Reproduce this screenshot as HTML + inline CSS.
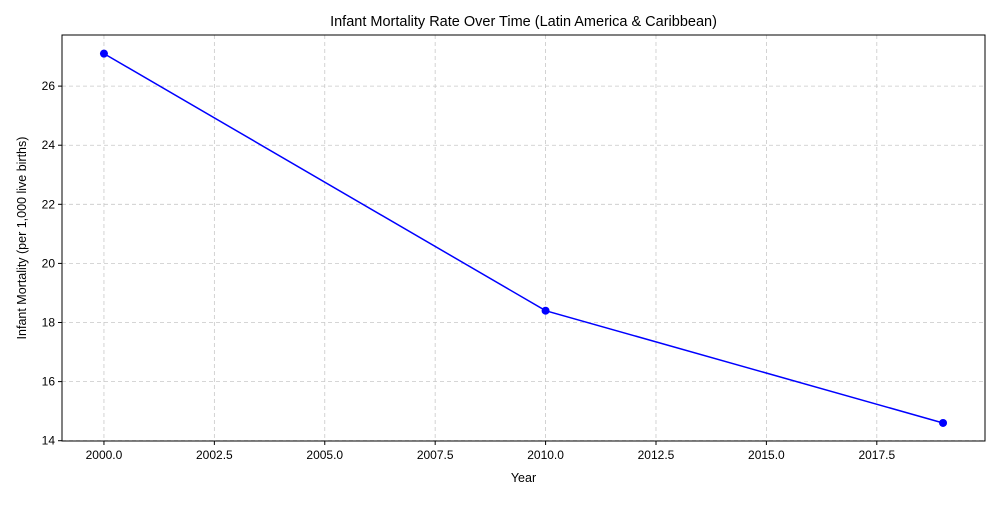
<!DOCTYPE html>
<html><head><meta charset="utf-8"><style>
body{margin:0;background:#fff;font-family:"Liberation Sans","DejaVu Sans",sans-serif;}
</style></head><body>
<svg id="chart" width="1000" height="500" xmlns="http://www.w3.org/2000/svg"></svg>
<script>
const years = [2000, 2010, 2019];
const mortality = [27.1, 18.4, 14.6];
const xTicks = [2000.0, 2002.5, 2005.0, 2007.5, 2010.0, 2012.5, 2015.0, 2017.5];
const yTicks = [14, 16, 18, 20, 22, 24, 26];

const L=62,R=985,T=35,B=441;
const xMin=1999.05,xMax=2019.95,yMin=13.99,yMax=27.73;
const sx=v=>L+(v-xMin)/(xMax-xMin)*(R-L);
const sy=v=>B-(v-yMin)/(yMax-yMin)*(B-T);
const svg=document.getElementById('chart');
const NS='http://www.w3.org/2000/svg';
function mk(tag,attrs,parent){const e=document.createElementNS(NS,tag);for(const k in attrs)e.setAttribute(k,attrs[k]);(parent||svg).appendChild(e);return e;}

const grid=mk('g',{});


xTicks.forEach(t=>{const x=sx(t);
  const g=mk('line',{x1:x,x2:x,y1:T,y2:B,stroke:'#c8c8c8','stroke-dasharray':'4,3','stroke-width':0.8},grid);
  const tk=mk('line',{x1:x,x2:x,y1:B,y2:B+4,stroke:'#000'});
  const lb=mk('text',{x:x,y:B+18,'text-anchor':'middle','font-size':12});
  lb.textContent=t.toFixed(1);
  
  
});
yTicks.forEach(t=>{const y=sy(t);
  mk('line',{x1:L,x2:R,y1:y,y2:y,stroke:'#c8c8c8','stroke-dasharray':'4,3','stroke-width':0.8},grid);
  mk('line',{x1:L-4,x2:L,y1:y,y2:y,stroke:'#000'});
  const lb=mk('text',{x:L-7,y:y+4,'text-anchor':'end','font-size':12});
  lb.textContent=t;
  
  
});
const frame=mk('rect',{x:L,y:T,width:R-L,height:B-T,fill:'none',stroke:'#000','stroke-width':1});



const line=mk('polyline',{points:years.map((y,i)=>sx(y)+','+sy(mortality[i])).join(' '),fill:'none',stroke:'#0000ff','stroke-width':1.5});


years.forEach((y,i)=>{
  const c=mk('circle',{cx:sx(y),cy:sy(mortality[i]),r:4,fill:'#0000ff'});
  
  
});

const title=mk('text',{x:(L+R)/2,y:26,'text-anchor':'middle','font-size':14.5});
title.textContent='Infant Mortality Rate Over Time (Latin America & Caribbean)';


const xt=mk('text',{x:(L+R)/2,y:482,'text-anchor':'middle','font-size':12.5});
xt.textContent='Year';


const yt=mk('text',{x:0,y:0,'text-anchor':'middle','font-size':12.5,transform:'translate(26,'+((T+B)/2)+') rotate(-90)'});
yt.textContent='Infant Mortality (per 1,000 live births)';


</script>
</body></html>
